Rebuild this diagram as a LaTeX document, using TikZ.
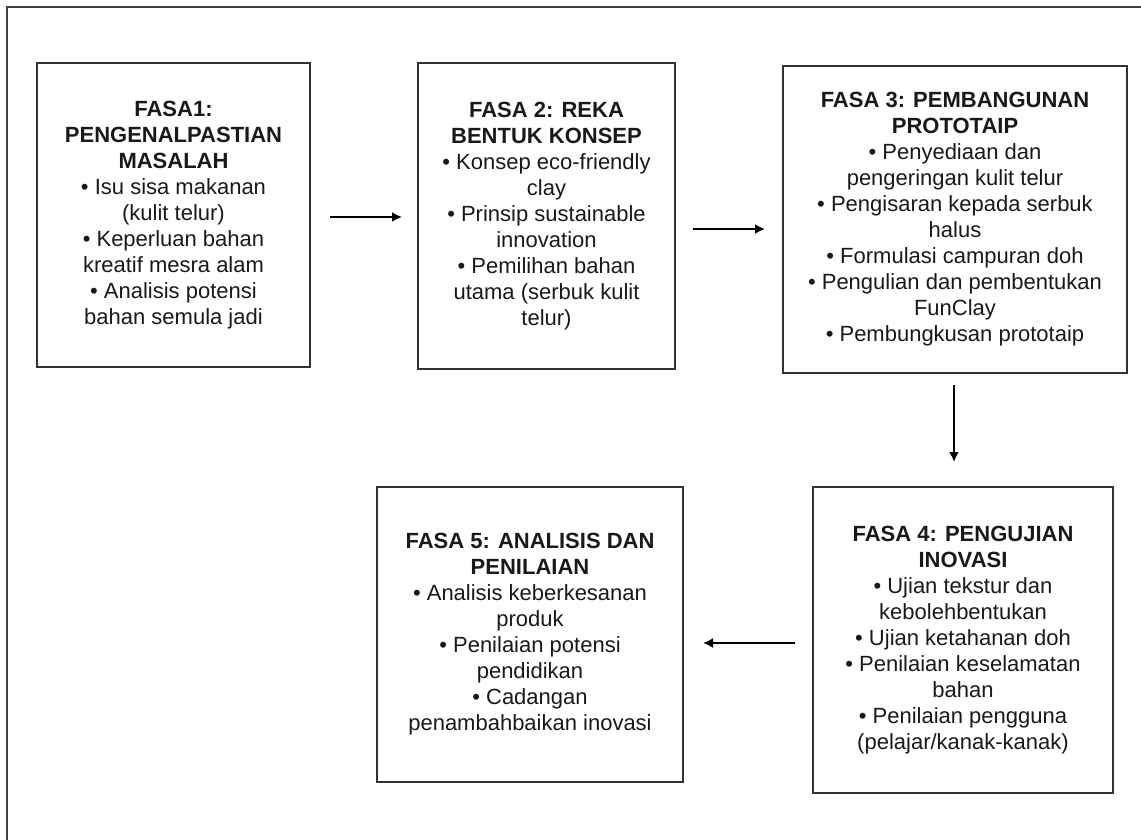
\documentclass[tikz,border=0pt]{standalone}
\usepackage{fontspec}
\setmainfont{Liberation Sans}
\usetikzlibrary{arrows.meta}
\tikzset{
  fasa/.style={draw=black!80,line width=1.8pt,inner sep=0pt,outer sep=0pt,
    align=center,font=\fontsize{22}{26}\selectfont,text=black!90},
  flow/.style={line width=1.9pt,-{Latex[length=10pt,width=10pt]}}
}
\newcommand{\fasatitle}[1]{\textbf{#1}}
\begin{document}
\begin{tikzpicture}[x=1pt,y=-1pt]
  \useasboundingbox (0,0) rectangle (1141,840);
  \draw[black!75,line width=2pt] (7,840) -- (7,7) -- (1141,7);
  \node[fasa,minimum width=273,minimum height=304] (f1) at (173.5,215)
    {\fasatitle{FASA1:}\\\fasatitle{PENGENALPASTIAN}\\\fasatitle{MASALAH}\\
     • Isu sisa makanan\\(kulit telur)\\• Keperluan bahan\\kreatif mesra alam\\
     • Analisis potensi\\bahan semula jadi};
  \node[fasa,minimum width=257,minimum height=306] (f2) at (546.5,216)
    {\fasatitle{FASA 2: REKA}\\\fasatitle{BENTUK KONSEP}\\
     • Konsep eco-friendly\\clay\\• Prinsip sustainable\\innovation\\
     • Pemilihan bahan\\utama (serbuk kulit\\telur)};
  \node[fasa,minimum width=344,minimum height=307] (f3) at (955,219.5)
    {\fasatitle{FASA 3: PEMBANGUNAN}\\\fasatitle{PROTOTAIP}\\
     • Penyediaan dan\\pengeringan kulit telur\\• Pengisaran kepada serbuk\\halus\\
     • Formulasi campuran doh\\• Pengulian dan pembentukan\\FunClay\\
     • Pembungkusan prototaip};
  \node[fasa,minimum width=300,minimum height=306] (f4) at (963,640)
    {\fasatitle{FASA 4: PENGUJIAN}\\\fasatitle{INOVASI}\\
     • Ujian tekstur dan\\kebolehbentukan\\• Ujian ketahanan doh\\
     • Penilaian keselamatan\\bahan\\• Penilaian pengguna\\(pelajar/kanak-kanak)};
  \node[fasa,minimum width=306,minimum height=295] (f5) at (530,634.5)
    {\fasatitle{FASA 5: ANALISIS DAN}\\\fasatitle{PENILAIAN}\\
     • Analisis keberkesanan\\produk\\• Penilaian potensi\\pendidikan\\
     • Cadangan\\penambahbaikan inovasi};
  % arrows between phases
  \coordinate (a45) at ([yshift=-3pt]f4.west);
  \draw[flow,shorten <=20pt,shorten >=16pt] ([yshift=-2pt]f1.east) -- ([yshift=-1pt]f2.west);
  \draw[flow,shorten <=18pt,shorten >=18pt] ([yshift=-13pt]f2.east) -- ([yshift=-9.5pt]f3.west);
  \draw[flow,shorten <=12pt,shorten >=25pt] ([xshift=-1pt]f3.south) -- ([xshift=-1pt]f3.south |- f4.north);
  \draw[flow,shorten <=18pt,shorten >=20pt] (a45) -- (f5.east |- a45);
\end{tikzpicture}
\end{document}
